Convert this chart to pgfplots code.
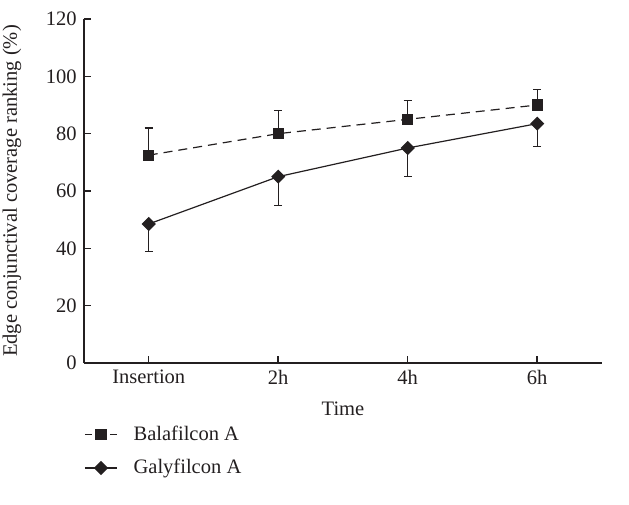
\documentclass[border=0pt]{standalone}
\usepackage{pgfplots}
\pgfplotsset{compat=1.18}
\usepackage{fontspec}
\setmainfont{Liberation Serif}
\definecolor{ink}{HTML}{231F20}
\begin{document}
\fontsize{10.3}{12.4}\selectfont
\begin{tikzpicture}[x=1bp,y=1bp]
\path[use as bounding box] (-42,-71) rectangle (272.5,181.5);
\begin{axis}[
  at={(0,0)}, anchor=south west,
  width=259bp, height=172bp, scale only axis,
  xmin=-0.5, xmax=3.5, ymin=0, ymax=120,
  xtick={0,1,2,3}, xticklabels={Insertion,2h,4h,6h},
  ytick={0,20,40,60,80,100,120},
  axis lines=left, axis line style={-, ink, line width=0.75bp},
  tick align=inside, tick style={ink, line width=0.75bp},
  major tick length=3.5bp,
  xtick pos=bottom, ytick pos=left,
  tick label style={font=\fontsize{10.3}{12.4}\selectfont, text=ink},
  /pgf/number format/assume math mode=true,
  xlabel={Time}, ylabel={Edge conjunctival coverage ranking (\%)},
  label style={font=\fontsize{10.3}{12.4}\selectfont, text=ink},
  xlabel style={at={(axis description cs:0.5,-0.134)}, anchor=center},
  ylabel style={at={(axis description cs:-0.139,0.5)}, anchor=center},
  legend style={at={(axis description cs:0.0,-0.158)}, anchor=north west, draw=none, fill=none,
    font=\fontsize{10.3}{12.4}\selectfont, text=ink, row sep=4bp, inner xsep=0pt,
    nodes={inner xsep=8bp}},
  legend cell align=left,
  legend image code/.code={\draw[mark repeat=2,mark phase=2,#1] plot coordinates {(0bp,0bp)(8bp,0bp)(16bp,0bp)};},
  clip=false,
]
\addplot[ink, line width=0.6bp, dash pattern=on 4.5bp off 3bp, mark=square*, mark size=2.5bp, mark options={solid, fill=ink},
  forget plot,
  error bars/.cd, y dir=plus, y explicit, error bar style={solid, ink, line width=0.6bp},
  error mark options={rotate=90, mark size=2bp, ink, line width=0.6bp}]
  table[x=x, y=y, y error=e] {
x y e
0 72.5 9.5
1 80 8
2 85 6.5
3 90 5.5
};
\addplot[ink, line width=0.6bp, mark=square*, mark size=2.2bp, mark options={solid, fill=ink, rotate=45},
  forget plot,
  error bars/.cd, y dir=minus, y explicit, error bar style={solid, ink, line width=0.6bp},
  error mark options={rotate=90, mark size=2bp, ink, line width=0.6bp}]
  table[x=x, y=y, y error=e] {
x y e
0 48.5 9.5
1 65 10
2 75 10
3 83.5 8
};
\addlegendimage{ink, line width=0.6bp, dash pattern=on 3.5bp off 9bp, mark=square*, mark size=2.5bp, mark options={solid, fill=ink}}
\addlegendentry{Balafilcon A}
\addlegendimage{ink, line width=0.6bp, mark=square*, mark size=2.2bp, mark options={solid, fill=ink, rotate=45}}
\addlegendentry{Galyfilcon A}
\end{axis}
\end{tikzpicture}
\end{document}
